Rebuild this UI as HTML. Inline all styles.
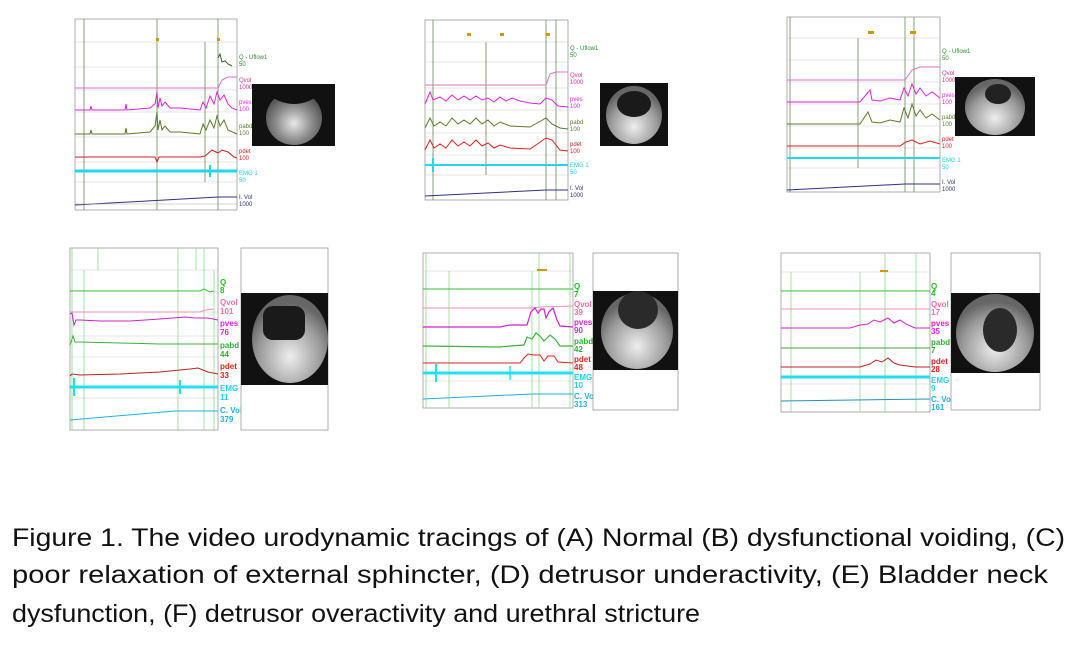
<!DOCTYPE html>
<html><head><meta charset="utf-8"><style>
html,body{margin:0;padding:0;background:#fff;width:1080px;height:659px;overflow:hidden}
svg{display:block}
.l{font-family:"Liberation Sans",sans-serif;font-size:8px;font-weight:bold}
.s{font-family:"Liberation Sans",sans-serif;font-size:6px}
.cap{font-family:"Liberation Sans",sans-serif;font-size:25px;fill:#111}
</style></head><body>
<svg width="1080" height="659" viewBox="0 0 1080 659" xmlns="http://www.w3.org/2000/svg">
<defs>
<radialGradient id="g1" cx="50%" cy="60%" r="55%"><stop offset="0" stop-color="#e8e8e8"/><stop offset="0.6" stop-color="#8a8a8a"/><stop offset="1" stop-color="#555"/></radialGradient>
<radialGradient id="g2" cx="50%" cy="70%" r="60%"><stop offset="0" stop-color="#eee"/><stop offset="0.7" stop-color="#999"/><stop offset="1" stop-color="#666"/></radialGradient>
</defs>

<!-- ===== Panel A ===== -->
<g>
<rect x="75" y="19" width="162" height="191" fill="#fff" stroke="#999" stroke-width="0.8"/>
<g stroke="#ccc" stroke-width="0.6"><line x1="75" y1="42" x2="237" y2="42"/><line x1="75" y1="67" x2="237" y2="67"/><line x1="75" y1="90" x2="237" y2="90"/><line x1="75" y1="112" x2="237" y2="112"/><line x1="75" y1="137" x2="237" y2="137"/><line x1="75" y1="162" x2="237" y2="162"/><line x1="75" y1="182" x2="237" y2="182"/></g>
<g stroke="#6a8a5a" stroke-width="0.8"><line x1="84" y1="19" x2="84" y2="210"/><line x1="157" y1="19" x2="157" y2="210"/><line x1="218" y1="19" x2="218" y2="210"/><line x1="205" y1="42" x2="205" y2="182"/></g>
<rect x="156" y="38" width="3" height="3" fill="#c90"/><rect x="217" y="38" width="3" height="3" fill="#c90"/>
<polyline points="218,58 220,54 222,62 225,61 228,64 232,66" fill="none" stroke="#2a6a2a" stroke-width="1"/>
<polyline points="75,88 218,88 222,80 228,77 237,77" fill="none" stroke="#e070c0" stroke-width="1"/>
<polyline points="75,110 90,110 91,106 92,110 125,110 126,104 127,110 150,108 155,104 157,92 158,108 160,98 162,106 165,102 170,108 180,108 200,110 203,102 206,108 210,96 214,104 217,92 220,100 224,95 228,104 232,108 237,110" fill="none" stroke="#dd22dd" stroke-width="1"/>
<polyline points="75,134 90,134 91,130 92,134 125,134 126,128 127,134 150,132 155,126 157,112 158,130 160,120 162,130 165,126 170,132 180,132 200,134 203,124 206,130 210,120 214,128 217,116 220,126 224,120 228,130 237,134" fill="none" stroke="#5a7a2a" stroke-width="1"/>
<polyline points="75,157 155,157 157,162 159,157 200,157 205,156 212,150 218,153 222,150 228,152 234,157 237,158" fill="none" stroke="#cc2020" stroke-width="1"/>
<polyline points="75,171 237,171" fill="none" stroke="#20d8e8" stroke-width="3"/>
<line x1="210" y1="165" x2="210" y2="177" stroke="#20d8e8" stroke-width="2"/>
<polyline points="75,205 218,197 237,197" fill="none" stroke="#303080" stroke-width="1"/>
<line x1="75" y1="204" x2="237" y2="204" stroke="#aaa" stroke-width="0.5"/>
<text class="s" x="239" y="59" fill="#2a8a2a">Q - Uflow1</text><text class="s" x="239" y="66" fill="#2a8a2a">50</text>
<text class="s" x="239" y="82" fill="#d0309a">Qvol</text><text class="s" x="239" y="89" fill="#d0309a">1000</text>
<text class="s" x="239" y="104" fill="#dd22dd">pves</text><text class="s" x="239" y="111" fill="#dd22dd">100</text>
<text class="s" x="239" y="128" fill="#5a7a2a">pabd</text><text class="s" x="239" y="135" fill="#5a7a2a">100</text>
<text class="s" x="239" y="153" fill="#cc2020">pdet</text><text class="s" x="239" y="160" fill="#cc2020">100</text>
<text class="s" x="239" y="175" fill="#20c8e0">EMG 1</text><text class="s" x="239" y="182" fill="#20c8e0">50</text>
<text class="s" x="239" y="199" fill="#303080">I. Vol</text><text class="s" x="239" y="206" fill="#303080">1000</text>
<rect x="252" y="84" width="83" height="62" fill="#111"/>
<ellipse cx="294" cy="118" rx="28" ry="27" fill="url(#g1)"/>
<path d="M270 96 Q294 112 318 96 L318 90 L270 90Z" fill="#111"/>
</g>

<!-- ===== Panel B ===== -->
<g>
<rect x="425" y="20" width="143" height="180" fill="#fff" stroke="#999" stroke-width="0.8"/>
<g stroke="#ccc" stroke-width="0.6"><line x1="425" y1="42" x2="568" y2="42"/><line x1="425" y1="62" x2="568" y2="62"/><line x1="425" y1="88" x2="568" y2="88"/><line x1="425" y1="110" x2="568" y2="110"/><line x1="425" y1="133" x2="568" y2="133"/><line x1="425" y1="155" x2="568" y2="155"/><line x1="425" y1="175" x2="568" y2="175"/></g>
<g stroke="#6a8a5a" stroke-width="0.8"><line x1="433" y1="20" x2="433" y2="200"/><line x1="546" y1="20" x2="546" y2="200"/><line x1="556" y1="20" x2="556" y2="200"/><line x1="486" y1="42" x2="486" y2="175"/></g>
<rect x="467" y="33" width="4" height="3" fill="#c90"/><rect x="500" y="33" width="4" height="3" fill="#c90"/><rect x="546" y="33" width="4" height="3" fill="#c90"/>
<polyline points="425,85 546,85 550,74 556,72 568,72" fill="none" stroke="#e070c0" stroke-width="1"/>
<polyline points="425,104 430,92 433,100 440,97 446,101 452,95 458,100 464,96 470,100 476,96 482,100 488,98 494,102 500,97 506,101 512,98 520,101 530,103 540,104 546,98 552,100 558,106 568,107" fill="none" stroke="#dd22dd" stroke-width="1"/>
<polyline points="425,128 430,118 434,126 440,122 446,126 452,118 458,124 464,120 470,124 476,118 482,124 488,120 494,126 500,122 510,126 530,127 546,118 552,124 560,128 568,129" fill="none" stroke="#5a7a2a" stroke-width="1"/>
<polyline points="425,150 430,140 434,148 440,144 446,148 452,140 458,146 464,142 470,146 476,140 482,146 488,143 494,148 500,145 510,148 530,149 546,138 552,140 560,150 568,151" fill="none" stroke="#dd2020" stroke-width="1"/>
<polyline points="425,165 568,165" fill="none" stroke="#20d8e8" stroke-width="2"/>
<line x1="433" y1="158" x2="433" y2="172" stroke="#20d8e8" stroke-width="2"/>
<polyline points="425,196 546,190 568,190" fill="none" stroke="#303080" stroke-width="1"/>
<text class="s" x="570" y="50" fill="#2a8a2a">Q - Uflow1</text><text class="s" x="570" y="57" fill="#2a8a2a">50</text>
<text class="s" x="570" y="77" fill="#d0309a">Qvol</text><text class="s" x="570" y="84" fill="#d0309a">1000</text>
<text class="s" x="570" y="101" fill="#dd22dd">pves</text><text class="s" x="570" y="108" fill="#dd22dd">100</text>
<text class="s" x="570" y="124" fill="#5a7a2a">pabd</text><text class="s" x="570" y="131" fill="#5a7a2a">100</text>
<text class="s" x="570" y="146" fill="#cc2020">pdet</text><text class="s" x="570" y="153" fill="#cc2020">100</text>
<text class="s" x="570" y="167" fill="#20c8e0">EMG 1</text><text class="s" x="570" y="174" fill="#20c8e0">50</text>
<text class="s" x="570" y="190" fill="#303080">I. Vol</text><text class="s" x="570" y="197" fill="#303080">1000</text>
<rect x="600" y="83" width="68" height="63" fill="#111"/>
<ellipse cx="634" cy="115" rx="28" ry="29" fill="url(#g2)"/>
<ellipse cx="634" cy="104" rx="17" ry="13" fill="#1a1a1a"/>
</g>

<!-- ===== Panel C ===== -->
<g>
<rect x="787" y="17" width="153" height="175" fill="#fff" stroke="#999" stroke-width="0.8"/>
<g stroke="#ccc" stroke-width="0.6"><line x1="787" y1="38" x2="940" y2="38"/><line x1="787" y1="60" x2="940" y2="60"/><line x1="787" y1="82" x2="940" y2="82"/><line x1="787" y1="104" x2="940" y2="104"/><line x1="787" y1="126" x2="940" y2="126"/><line x1="787" y1="148" x2="940" y2="148"/><line x1="787" y1="168" x2="940" y2="168"/></g>
<g stroke="#6a8a5a" stroke-width="0.8"><line x1="790" y1="17" x2="790" y2="192"/><line x1="905" y1="17" x2="905" y2="192"/><line x1="914" y1="17" x2="914" y2="192"/><line x1="858" y1="38" x2="858" y2="168"/></g>
<rect x="868" y="31" width="6" height="3" fill="#c90"/><rect x="910" y="31" width="6" height="3" fill="#c90"/>
<polyline points="787,80 905,80 912,70 920,67 940,67" fill="none" stroke="#e070c0" stroke-width="1"/>
<polyline points="787,102 860,102 870,90 872,100 880,101 890,98 900,100 904,88 908,96 912,84 916,94 920,88 926,96 932,92 940,98" fill="none" stroke="#dd22dd" stroke-width="1"/>
<polyline points="787,124 860,124 868,112 872,122 880,123 890,120 900,122 904,108 908,118 912,104 916,116 920,110 926,118 932,114 940,120" fill="none" stroke="#5a7a2a" stroke-width="1"/>
<polyline points="787,146 900,146 906,142 912,140 920,144 930,141 940,144" fill="none" stroke="#dd2020" stroke-width="1"/>
<polyline points="787,158 940,158" fill="none" stroke="#20d8e8" stroke-width="2"/>
<polyline points="787,190 905,184 940,184" fill="none" stroke="#303080" stroke-width="1"/>
<text class="s" x="942" y="53" fill="#2a8a2a">Q - Uflow1</text><text class="s" x="942" y="60" fill="#2a8a2a">50</text>
<text class="s" x="942" y="75" fill="#d0309a">Qvol</text><text class="s" x="942" y="82" fill="#d0309a">1000</text>
<text class="s" x="942" y="97" fill="#dd22dd">pves</text><text class="s" x="942" y="104" fill="#dd22dd">100</text>
<text class="s" x="942" y="119" fill="#5a7a2a">pabd</text><text class="s" x="942" y="126" fill="#5a7a2a">100</text>
<text class="s" x="942" y="141" fill="#cc2020">pdet</text><text class="s" x="942" y="148" fill="#cc2020">100</text>
<text class="s" x="942" y="162" fill="#20c8e0">EMG 1</text><text class="s" x="942" y="169" fill="#20c8e0">50</text>
<text class="s" x="942" y="184" fill="#303080">I. Vol</text><text class="s" x="942" y="191" fill="#303080">1000</text>
<rect x="955" y="77" width="80" height="59" fill="#111"/>
<ellipse cx="995" cy="107" rx="30" ry="28" fill="url(#g2)"/>
<ellipse cx="998" cy="94" rx="13" ry="10" fill="#222"/>
</g>

<!-- ===== Panel D ===== -->
<g>
<rect x="70" y="248" width="148" height="182" fill="#fff" stroke="#999" stroke-width="0.8"/>
<g stroke="#ccc" stroke-width="0.6"><line x1="70" y1="270" x2="218" y2="270"/><line x1="70" y1="312" x2="218" y2="312"/><line x1="70" y1="336" x2="218" y2="336"/><line x1="70" y1="357" x2="218" y2="357"/><line x1="70" y1="398" x2="218" y2="398"/></g>
<g stroke="#8ed88e" stroke-width="0.8"><line x1="72" y1="248" x2="72" y2="430"/><line x1="84" y1="270" x2="84" y2="430"/><line x1="98" y1="248" x2="98" y2="270"/><line x1="178" y1="248" x2="178" y2="430"/><line x1="196" y1="248" x2="196" y2="270"/><line x1="204" y1="248" x2="204" y2="430"/><line x1="214" y1="270" x2="214" y2="430"/></g>
<polyline points="70,291 200,291 204,289 210,292 214,291" fill="none" stroke="#30c030" stroke-width="1"/>
<polyline points="70,312 200,312 205,310 214,309" fill="none" stroke="#f090b0" stroke-width="1"/>
<polyline points="70,314 72,313 74,325 76,320 80,320 100,321 130,321 160,319 185,317 195,318 208,318 218,320" fill="none" stroke="#d020d0" stroke-width="1"/>
<polyline points="70,345 73,336 75,342 80,342 120,343 160,344 200,344 218,344" fill="none" stroke="#40b040" stroke-width="1"/>
<polyline points="70,376 72,374 80,375 120,374 160,372 190,369 198,368 208,372 218,374" fill="none" stroke="#c02020" stroke-width="1"/>
<line x1="70" y1="387" x2="218" y2="387" stroke="#20e0f0" stroke-width="3"/>
<line x1="74" y1="378" x2="74" y2="396" stroke="#20e0f0" stroke-width="2"/>
<line x1="180" y1="380" x2="180" y2="394" stroke="#20e0f0" stroke-width="2"/>
<polyline points="70,420 175,411 218,411" fill="none" stroke="#20b0e0" stroke-width="1"/>
<text class="l" x="220" y="285" fill="#20c020">Q</text><text class="l" x="220" y="293" fill="#20c020">8</text>
<text class="l" x="220" y="305" fill="#f070a0">Qvol</text><text class="l" x="220" y="314" fill="#f070a0">101</text>
<text class="l" x="220" y="326" fill="#e020e0">pves</text><text class="l" x="220" y="335" fill="#e020e0">76</text>
<text class="l" x="220" y="348" fill="#30b030">pabd</text><text class="l" x="220" y="357" fill="#30b030">44</text>
<text class="l" x="220" y="369" fill="#e02020">pdet</text><text class="l" x="220" y="378" fill="#e02020">33</text>
<text class="l" x="220" y="391" fill="#20d0f0">EMG 1</text><text class="l" x="220" y="400" fill="#20d0f0">11</text>
<text class="l" x="220" y="413" fill="#20b0e0">C. Vol</text><text class="l" x="220" y="422" fill="#20b0e0">379</text>
<rect x="241" y="248" width="87" height="182" fill="#fff" stroke="#999" stroke-width="0.8"/>
<rect x="241" y="293" width="87" height="92" fill="#111"/>
<ellipse cx="290" cy="339" rx="38" ry="44" fill="url(#g2)"/>
<rect x="263" y="306" width="42" height="34" rx="10" fill="#1a1a1a"/>
</g>

<!-- ===== Panel E ===== -->
<g>
<rect x="423" y="253" width="150" height="155" fill="#fff" stroke="#999" stroke-width="0.8"/>
<g stroke="#ccc" stroke-width="0.6"><line x1="423" y1="271" x2="573" y2="271"/><line x1="423" y1="381" x2="573" y2="381"/></g>
<g stroke="#8ed88e" stroke-width="0.8"><line x1="426" y1="253" x2="426" y2="408"/><line x1="449" y1="271" x2="449" y2="408"/><line x1="532" y1="271" x2="532" y2="408"/><line x1="539" y1="253" x2="539" y2="408"/><line x1="570" y1="253" x2="570" y2="408"/></g>
<rect x="537" y="269" width="10" height="2" fill="#c90"/>
<polyline points="423,289 573,289" fill="none" stroke="#30c030" stroke-width="1"/>
<polyline points="423,308 532,308 540,307 573,306" fill="none" stroke="#f090b0" stroke-width="1"/>
<polyline points="423,327 500,327 510,325 527,325 531,312 535,308 538,313 541,309 544,309 546,318 549,312 553,308 557,320 560,326 573,327" fill="none" stroke="#d020d0" stroke-width="1.2"/>
<polyline points="423,346 500,347 510,346 524,345 527,337 532,339 536,333 540,336 544,341 550,335 555,339 560,346 573,346" fill="none" stroke="#40b040" stroke-width="1.2"/>
<polyline points="423,363 520,363 524,358 528,354 534,355 540,355 544,361 548,356 554,356 558,362 573,363" fill="none" stroke="#e02020" stroke-width="1"/>
<line x1="423" y1="373" x2="573" y2="373" stroke="#20e0f0" stroke-width="3"/>
<line x1="436" y1="364" x2="436" y2="382" stroke="#20e0f0" stroke-width="2"/>
<line x1="510" y1="366" x2="510" y2="380" stroke="#20e0f0" stroke-width="1.5"/>
<polyline points="423,399 532,394 573,394" fill="none" stroke="#20b0e0" stroke-width="1"/>
<text class="l" x="574" y="289" fill="#20c020">Q</text><text class="l" x="574" y="297" fill="#20c020">7</text>
<text class="l" x="574" y="307" fill="#f070a0">Qvol</text><text class="l" x="574" y="315" fill="#f070a0">39</text>
<text class="l" x="574" y="325" fill="#e020e0">pves</text><text class="l" x="574" y="333" fill="#e020e0">90</text>
<text class="l" x="574" y="344" fill="#30b030">pabd</text><text class="l" x="574" y="352" fill="#30b030">42</text>
<text class="l" x="574" y="362" fill="#e02020">pdet</text><text class="l" x="574" y="370" fill="#e02020">48</text>
<text class="l" x="574" y="380" fill="#20d0f0">EMG</text><text class="l" x="574" y="388" fill="#20d0f0">10</text>
<text class="l" x="574" y="399" fill="#20b0e0">C. Vol</text><text class="l" x="574" y="407" fill="#20b0e0">313</text>
<rect x="593" y="253" width="85" height="157" fill="#fff" stroke="#999" stroke-width="0.8"/>
<rect x="593" y="291" width="85" height="79" fill="#111"/>
<ellipse cx="637" cy="331" rx="36" ry="38" fill="url(#g2)"/>
<ellipse cx="638" cy="310" rx="20" ry="19" fill="#2a2a2a"/>
</g>

<!-- ===== Panel F ===== -->
<g>
<rect x="781" y="253" width="149" height="159" fill="#fff" stroke="#999" stroke-width="0.8"/>
<g stroke="#ccc" stroke-width="0.6"><line x1="781" y1="272" x2="930" y2="272"/><line x1="781" y1="384" x2="930" y2="384"/></g>
<g stroke="#8ed88e" stroke-width="0.8"><line x1="791" y1="272" x2="791" y2="412"/><line x1="860" y1="272" x2="860" y2="412"/><line x1="885" y1="253" x2="885" y2="412"/><line x1="916" y1="253" x2="916" y2="412"/></g>
<rect x="880" y="270" width="8" height="2" fill="#c90"/>
<polyline points="781,291 930,291" fill="none" stroke="#30c030" stroke-width="1"/>
<polyline points="781,309 930,309" fill="none" stroke="#f090b0" stroke-width="1"/>
<polyline points="781,328 850,328 860,325 868,324 874,320 880,322 888,318 894,323 900,320 906,324 915,328 930,328" fill="none" stroke="#d020d0" stroke-width="1"/>
<polyline points="781,348 930,348" fill="none" stroke="#40a040" stroke-width="1"/>
<polyline points="781,367 860,367 870,364 876,360 882,362 888,358 894,363 900,365 915,367 930,367" fill="none" stroke="#c02020" stroke-width="1"/>
<line x1="781" y1="377" x2="930" y2="377" stroke="#20e0f0" stroke-width="3"/>
<polyline points="781,401 930,399" fill="none" stroke="#2090c0" stroke-width="1"/>
<text class="l" x="931" y="289" fill="#20c020">Q</text><text class="l" x="931" y="296" fill="#20c020">4</text>
<text class="l" x="931" y="307" fill="#f070a0">Qvol</text><text class="l" x="931" y="315" fill="#f070a0">17</text>
<text class="l" x="931" y="326" fill="#e020e0">pves</text><text class="l" x="931" y="334" fill="#e020e0">35</text>
<text class="l" x="931" y="345" fill="#30b030">pabd</text><text class="l" x="931" y="353" fill="#30b030">7</text>
<text class="l" x="931" y="364" fill="#e02020">pdet</text><text class="l" x="931" y="372" fill="#e02020">28</text>
<text class="l" x="931" y="383" fill="#20d0f0">EMG</text><text class="l" x="931" y="391" fill="#20d0f0">9</text>
<text class="l" x="931" y="402" fill="#20b0e0">C. Vol</text><text class="l" x="931" y="410" fill="#20b0e0">161</text>
<rect x="951" y="253" width="89" height="157" fill="#fff" stroke="#999" stroke-width="0.8"/>
<rect x="951" y="293" width="89" height="80" fill="#111"/>
<ellipse cx="995" cy="333" rx="39" ry="39" fill="url(#g2)"/>
<ellipse cx="1000" cy="330" rx="17" ry="22" fill="#2a2a2a"/>
</g>

<!-- Caption -->
<text class="cap" x="12" y="546" textLength="1053" lengthAdjust="spacingAndGlyphs">Figure 1. The video urodynamic tracings of (A) Normal (B) dysfunctional voiding, (C)</text>
<text class="cap" x="12" y="583" textLength="1036" lengthAdjust="spacingAndGlyphs">poor relaxation of external sphincter, (D) detrusor underactivity, (E) Bladder neck</text>
<text class="cap" x="12" y="622" textLength="688" lengthAdjust="spacingAndGlyphs">dysfunction, (F) detrusor overactivity and urethral stricture</text>
</svg>
</body></html>
